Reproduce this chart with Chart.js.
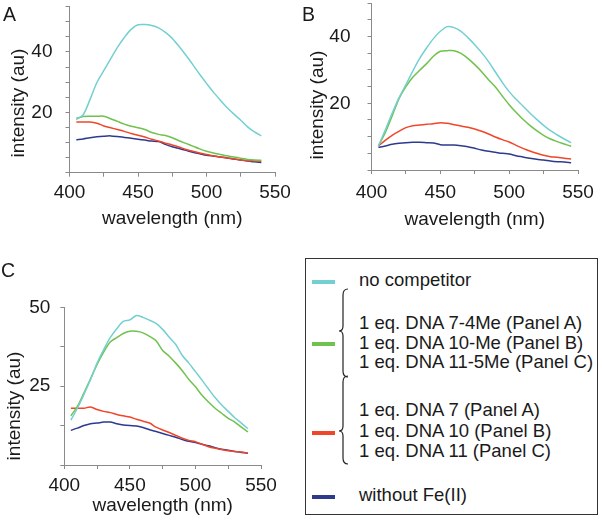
<!DOCTYPE html>
<html lang="en">
<head>
  <meta charset="UTF-8" />
  <title>Fluorescence spectra - competition</title>
  <script src="https://cdn.jsdelivr.net/npm/chart.js"></script>
  <style>
    body {
      margin: 0;
      background: #fff;
      font-family: Arial, 'Liberation Sans', sans-serif;
      color: #1a1a1a;
    }
    #page {
      position: relative;
      width: 602px;
      height: 524px;
      overflow: hidden;
    }
    canvas { position: absolute; }
    .panel-letter {
      position: absolute;
      font-size: 19.5px;
      line-height: 20px;
    }
    /* Legend box */
    #legend {
      position: absolute;
      left: 305px;
      top: 258px;
      width: 293px;
      height: 257px;
      border: 1px solid #333;
      box-sizing: border-box;
    }
    .swatch {
      position: absolute;
      left: 6px;
      width: 23px;
      height: 4px;
    }
    .entry {
      position: absolute;
      left: 53px;
      font-size: 18.5px;
      line-height: 20px;
      white-space: nowrap;
    }
    #legend svg { position: absolute; left: 0; top: 0; }
  </style>
</head>
<body>
  <div id="page">
    <canvas id="chartA" width="300" height="240" style="left:0;top:0"></canvas>
    <canvas id="chartB" width="302" height="240" style="left:300px;top:0"></canvas>
    <canvas id="chartC" width="300" height="262" style="left:0;top:262px"></canvas>

    <div class="panel-letter" style="left:3px;top:4px">A</div>
    <div class="panel-letter" style="left:302px;top:4px">B</div>
    <div class="panel-letter" style="left:1px;top:260px">C</div>

    <div id="legend">
      <div class="swatch" id="sw0" style="top:21px"></div>
      <div class="swatch" id="sw1" style="top:83px"></div>
      <div class="swatch" id="sw2" style="top:172px"></div>
      <div class="swatch" id="sw3" style="top:236px"></div>

      <div class="entry" style="top:11px">no competitor</div>
      <div class="entry" style="top:54px">1 eq. DNA 7-4Me (Panel A)</div>
      <div class="entry" style="top:74px">1 eq. DNA 10-Me (Panel B)</div>
      <div class="entry" style="top:93px">1 eq. DNA 11-5Me (Panel C)</div>
      <div class="entry" style="top:141px">1 eq. DNA 7 (Panel A)</div>
      <div class="entry" style="top:162px">1 eq. DNA 10 (Panel B)</div>
      <div class="entry" style="top:182px">1 eq. DNA 11 (Panel C)</div>
      <div class="entry" style="top:226px">without Fe(II)</div>

      <svg width="60" height="256">
        <path d="M42 30 Q37 30 37 36 L37 67 Q37 72 33 72 Q37 72 37 77 L37 112 Q37 118 42 118"
              fill="none" stroke="#222" stroke-width="1.2" />
        <path d="M42 117 Q37 117 37 123 L37 167 Q37 172 33 172 Q37 172 37 177 L37 199 Q37 205 42 205"
              fill="none" stroke="#222" stroke-width="1.2" />
      </svg>
    </div>
  </div>

  <script>
    // ---- data ----
    const seriesNames = ['no competitor', '1 eq. DNA (methylated)', '1 eq. DNA', 'without Fe(II)'];
    const seriesColors = ['#74d0d0', '#6fc24e', '#f0462a', '#2d3a8e'];

    const xTickLabels = [400, 450, 500, 550];
    const yTickLabelsAB = [20, 40];
    const yTickLabelsC = [25, 50];

    // Panel A
    const wavelengthA = [405, 410, 415, 420, 425, 430, 435, 440, 445, 450, 455, 460, 465, 470,
                         475, 480, 485, 490, 495, 500, 505, 510, 515, 520, 525, 530, 535, 540];
    const noCompA = [17.6, 19.2, 24.3, 29.9, 33.8, 37.7, 41.5, 44.8, 47.5, 49.0, 49.1, 48.8, 48.0, 46.5,
                     44.5, 41.8, 38.9, 35.8, 32.6, 29.6, 26.7, 24.1, 21.6, 19.4, 17.4, 15.2, 13.5, 12.2];
    const dnaMeA = [18.0, 18.6, 18.7, 18.7, 18.7, 17.9, 17.0, 16.1, 15.4, 14.9, 14.3, 13.3, 12.7, 12.3,
                    11.6, 10.6, 9.7, 8.8, 7.9, 7.1, 6.5, 6.0, 5.6, 5.2, 4.8, 4.4, 4.2, 4.1];
    const dnaA = [16.8, 16.8, 16.8, 16.4, 15.5, 14.9, 14.3, 13.7, 13.0, 12.4, 11.8, 11.1, 10.5, 9.8,
                  9.2, 8.5, 7.7, 7.1, 6.5, 6.0, 5.6, 5.2, 4.9, 4.6, 4.2, 4.0, 3.9, 3.8];
    const noFeA = [10.9, 11.2, 11.6, 11.9, 12.1, 12.2, 12.0, 11.7, 11.4, 11.1, 10.8, 10.5, 10.3, 9.4,
                   8.6, 8.0, 7.4, 6.8, 6.3, 5.8, 5.5, 5.2, 4.9, 4.5, 4.2, 3.9, 3.6, 3.4];

    // Panel B
    const wavelengthB = [405, 410, 415, 420, 425, 430, 435, 440, 445, 450, 455, 460, 465, 470, 475,
                         480, 485, 490, 495, 500, 505, 510, 515, 520, 525, 530, 535, 540, 545];
    const noCompB = [7.2, 12.0, 17.0, 21.7, 25.6, 29.7, 33.5, 36.6, 39.4, 41.6, 43.0, 42.7, 41.6, 39.7, 37.6,
                     35.2, 32.5, 29.4, 26.3, 23.5, 21.2, 19.2, 17.1, 15.2, 13.4, 11.8, 10.5, 9.3, 8.2];
    const dnaMeB = [7.2, 11.2, 16.2, 21.4, 25.0, 27.8, 29.9, 31.9, 34.1, 35.6, 35.8, 35.8, 35.0, 33.5, 31.6,
                    29.5, 27.1, 24.9, 22.2, 19.6, 17.3, 15.2, 13.4, 11.8, 10.4, 9.3, 8.5, 7.8, 7.1];
    const dnaB = [7.2, 8.9, 10.4, 11.6, 12.7, 13.3, 13.5, 13.7, 13.9, 14.2, 14.0, 13.6, 13.2, 12.8, 12.3,
                  11.6, 10.8, 9.9, 9.1, 8.4, 7.4, 6.5, 5.7, 5.0, 4.4, 4.0, 3.8, 3.5, 3.3];
    const noFeB = [6.8, 7.2, 7.7, 8.0, 8.2, 8.3, 8.3, 8.2, 8.1, 7.6, 7.5, 7.5, 7.3, 7.0, 6.5,
                   6.0, 5.6, 5.3, 5.0, 4.8, 4.3, 3.9, 3.5, 3.2, 3.0, 2.7, 2.5, 2.4, 2.2];

    // Panel C
    const wavelengthC = [405, 410, 415, 420, 425, 430, 435, 440, 445, 450, 455, 460, 465, 470,
                         475, 480, 485, 490, 495, 500, 505, 510, 515, 520, 525, 530, 535, 540];
    const noCompC = [14.2, 18.0, 22.4, 27.1, 32.3, 36.6, 40.4, 43.2, 45.5, 46.0, 47.4, 46.8, 45.9, 44.9,
                     43.0, 40.5, 38.2, 34.7, 32.3, 29.6, 26.9, 24.1, 21.4, 19.0, 17.0, 15.0, 13.3, 11.5];
    const dnaMeC = [15.6, 18.6, 22.9, 27.3, 31.9, 35.8, 39.0, 40.4, 41.7, 42.4, 42.4, 41.9, 40.8, 39.4,
                    36.3, 34.5, 32.3, 29.9, 27.1, 24.8, 22.1, 20.0, 18.0, 16.4, 14.8, 13.6, 12.0, 10.5];
    const dnaC = [18.0, 18.0, 18.0, 18.4, 17.6, 17.0, 16.6, 16.0, 15.6, 15.2, 14.5, 13.9, 13.3, 12.0,
                  11.1, 10.3, 9.4, 8.5, 7.8, 7.4, 6.6, 5.8, 5.3, 4.9, 4.5, 4.3, 4.1, 3.8];
    const noFeC = [11.0, 11.7, 12.5, 13.1, 13.3, 13.6, 13.6, 13.1, 12.7, 12.5, 12.4, 11.9, 11.2, 10.6,
                   10.0, 9.4, 8.8, 8.1, 7.5, 7.1, 6.6, 6.1, 5.5, 5.0, 4.7, 4.3, 4.0, 3.7];

    // legend swatches
    seriesColors.forEach((c, i) => { document.getElementById('sw' + i).style.background = c; });

    const FONT = "Arial, 'Liberation Sans', sans-serif";
    const AXIS_GRAY = '#8a8a8a';

    // draws the rotated y-axis title where the original figure had it
    const yTitlePlugin = {
      id: 'yTitle',
      afterDraw(chart, args, opts) {
        const ctx = chart.ctx;
        ctx.save();
        ctx.translate(opts.x, opts.y);
        ctx.rotate(-Math.PI / 2);
        ctx.font = '19px ' + FONT;
        ctx.fillStyle = '#1a1a1a';
        ctx.textAlign = 'center';
        ctx.textBaseline = 'middle';
        ctx.fillText(opts.text, 0, 0);
        ctx.restore();
      }
    };

    function makePanel(id, wl, series, cfg) {
      const datasets = series.map((vals, i) => ({
        label: seriesNames[i],
        data: wl.map((w, j) => ({ x: w, y: vals[j] })),
        borderColor: seriesColors[i],
        borderWidth: 1.5,
        pointRadius: 0,
        tension: 0.3,
        fill: false
      }));

      new Chart(document.getElementById(id), {
        type: 'line',
        data: { datasets },
        plugins: [yTitlePlugin],
        options: {
          responsive: false,
          animation: false,
          layout: { padding: cfg.padding },
          plugins: {
            legend: { display: false },
            tooltip: { enabled: false },
            yTitle: { text: 'intensity (au)', x: cfg.yTitleX, y: cfg.yTitleY }
          },
          scales: {
            x: {
              type: 'linear',
              min: 400,
              max: 550,
              border: { color: AXIS_GRAY, width: 1 },
              grid: { drawOnChartArea: false, tickLength: 4, color: AXIS_GRAY },
              ticks: {
                stepSize: 25,
                padding: cfg.xTickPad,
                maxRotation: 0,
                autoSkip: false,
                color: '#1a1a1a',
                font: { family: FONT, size: 19 },
                callback: v => xTickLabels.includes(v) ? String(v) : ''
              },
              title: {
                display: true,
                text: 'wavelength (nm)',
                color: '#1a1a1a',
                font: { family: FONT, size: 19 },
                padding: { top: 0, bottom: cfg.xTitlePad }
              },
              afterFit: s => { s.height = cfg.xHeight; s.paddingLeft = 0; s.paddingRight = 0; }
            },
            y: {
              min: 0,
              max: cfg.yMax,
              border: { color: AXIS_GRAY, width: 1 },
              grid: { drawOnChartArea: false, tickLength: 4, color: AXIS_GRAY },
              ticks: {
                stepSize: cfg.yStep,
                padding: cfg.yTickPad,
                autoSkip: false,
                color: '#1a1a1a',
                font: { family: FONT, size: 19 },
                callback: v => cfg.yLabels.includes(v) ? String(v) : ''
              },
              afterFit: s => { s.width = cfg.yWidth; s.paddingTop = 0; s.paddingBottom = 0; }
            }
          }
        }
      });
    }

    makePanel('chartA', wavelengthA, [noCompA, dnaMeA, dnaA, noFeA], {
      padding: { left: 0, top: 6.7, right: 25, bottom: 0 },
      yWidth: 69.5, xHeight: 67.3, yMax: 55, yStep: 5, yLabels: yTickLabelsAB,
      xTickPad: 4.4, yTickPad: 13, xTitlePad: 9.6, yTitleX: 19, yTitleY: 103
    });

    makePanel('chartB', wavelengthB, [noCompB, dnaMeB, dnaB, noFeB], {
      padding: { left: 0, top: 3.3, right: 24, bottom: 0 },
      yWidth: 71.5, xHeight: 70, yMax: 50, yStep: 5, yLabels: yTickLabelsAB,
      xTickPad: 7, yTickPad: 17, xTitlePad: 8.6, yTitleX: 18, yTitleY: 105
    });

    makePanel('chartC', wavelengthC, [noCompC, dnaMeC, dnaC, noFeC], {
      padding: { left: 0, top: 45.3, right: 39, bottom: 0 },
      yWidth: 64.3, xHeight: 59, yMax: 50, yStep: 12.5, yLabels: yTickLabelsC,
      xTickPad: 5, yTickPad: 10, xTitlePad: 6.6, yTitleX: 14.5, yTitleY: 144
    });
  </script>
</body>
</html>
